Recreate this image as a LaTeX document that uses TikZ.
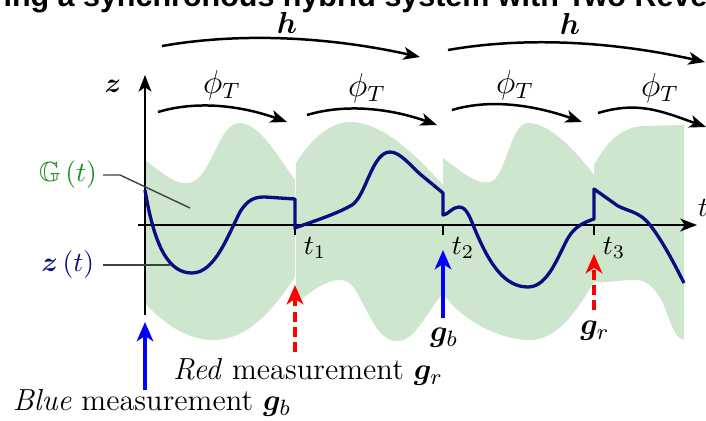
\documentclass[tikz,border=0pt]{standalone}
\usepackage{amssymb}
\usepackage{bm}
\usepackage{fontspec}
\newfontfamily\titlefont{Liberation Sans}
\usetikzlibrary{arrows.meta}

\definecolor{setgreen}{RGB}{205,230,205}
\definecolor{labelgreen}{RGB}{25,140,25}
\definecolor{trajblue}{RGB}{12,12,130}

\tikzset{
  tip/.style={-{Stealth[length=6pt,width=4.6pt,inset=1.6pt]}},
  period/.style={tip, line width=0.9pt},
  axis/.style={tip, line width=0.8pt},
  region/.style={fill=setgreen, draw=none},
  traj/.style={trajblue, line width=1.2pt, line join=round},
  leader/.style={black!75, line width=0.5pt},
  meastip/.style={-{Stealth[length=7pt,width=6pt,inset=2pt]}},
  bluemeas/.style={meastip, blue, line width=1.2pt},
  redmeas/.style={meastip, red, line width=1.2pt, dash pattern=on 3.5pt off 2pt},
  meastext/.style={font=\fontsize{11}{13}\selectfont}
}

\begin{document}
\begin{tikzpicture}[x=0.361pt,y=-0.361pt]
  \useasboundingbox (0,0) rectangle (706,421);
  \clip (0,0) rectangle (706,421);

  % TITLE (cut by the frame)
  \node[anchor=base west, inner sep=0pt,
        font=\fontsize{11}{13}\selectfont\titlefont\bfseries] (title) at (3,6)
        {ing a synchronous hybrid system with Two Reve};

  % GREEN SETS
  \fill[region] (145,160) .. controls (165,175) and (180,190) .. (196,180)
    .. controls (214,166) and (220,123) .. (240,123)
    .. controls (260,123) and (280,160) .. (295,180) -- (295,277)
    .. controls (270,315) and (245,340) .. (213,340)
    .. controls (185,340) and (160,320) .. (145,303) -- cycle;
  \fill[region] (296,163) .. controls (310,140) and (330,122) .. (350,122)
    .. controls (385,122) and (420,160) .. (443,185) -- (443,293)
    .. controls (425,315) and (415,341) .. (397,341)
    .. controls (380,341) and (372,320) .. (362,302)
    .. controls (355,288) and (350,280) .. (340,280)
    .. controls (325,280) and (310,293) .. (296,303) -- cycle;
  \fill[region] (443,158) .. controls (460,170) and (475,185) .. (490,182)
    .. controls (506,178) and (510,123) .. (528,123)
    .. controls (550,123) and (575,150) .. (594,175) -- (594,282)
    .. controls (580,305) and (560,340) .. (530,340)
    .. controls (500,340) and (460,320) .. (443,293) -- cycle;
  \fill[region] (594,165) .. controls (605,145) and (620,126) .. (645,126)
    -- (684,125) -- (684,340)
    .. controls (672,338) and (668,310) .. (660,298)
    .. controls (652,285) and (645,280) .. (635,280)
    .. controls (620,280) and (605,283) .. (594,282) -- cycle;

  % AXES
  \coordinate (zbot) at (145,315);
  \coordinate (ztop) at (145,75);
  \coordinate (tleft) at (138,225);
  \coordinate (tright) at (697,225);
  \draw[axis] (zbot) -- (ztop);
  \draw[axis] (tleft) -- (tright);
  \node (zlab) at (113,86) {$\bm{z}$};
  \node (tlab) at (703,208) {$t$};

  \foreach \x/\n in {295/1,443/2,594/3}{
    \draw[line width=1pt] (\x,225) -- (\x,235);
    \node (tick\n) at (\x+20,248) {$t_\n$};
  }

  % TRAJECTORY
  \draw[traj] (145,190) .. controls (155,250) and (170,273) .. (192,273)
    .. controls (215,273) and (228,235) .. (240,212)
    .. controls (248,199) and (255,197) .. (265,197)
    -- (295,199) -- (295,228)
    .. controls (305,224) and (335,215) .. (352,205)
    .. controls (366,196) and (372,152) .. (390,152)
    .. controls (400,152) and (410,165) .. (420,174)
    -- (443,193) -- (443,215)
    .. controls (448,215) and (452,207) .. (459,207)
    .. controls (467,207) and (470,218) .. (476,232)
    .. controls (490,265) and (505,287) .. (528,287)
    .. controls (548,287) and (558,256) .. (568,238)
    .. controls (575,226) and (585,222) .. (594,219)
    -- (594,189) -- (618,206)
    .. controls (630,212) and (640,212) .. (650,225)
    .. controls (662,240) and (675,265) .. (684,283);

  % LABELS
  \node[labelgreen, anchor=east, inner sep=2pt] (glab) at (103,175) {$\mathbb{G}\left(t\right)$};
  \coordinate (gknee) at (120,175);
  \coordinate (gend) at (190,208);
  \draw[leader] (glab.east) -- (gknee) -- (gend);
  \node[trajblue, anchor=east, inner sep=3pt] (ztlab) at (103,265) {$\bm{z}\left(t\right)$};
  \coordinate (zend) at (170,265);
  \draw[leader] (ztlab.east) -- (zend);

  % PERIOD ARROWS
  \foreach \sx/\sy/\ex/\ey/\lx/\ly/\n in {158/112/287/122/222/85/1, 307/115/437/125/367/88/2,
                                       452/110/582/122/515/85/3, 598/113/706/127/660/88/4}{
    \coordinate (ps\n) at (\sx,\sy);
    \coordinate (pe\n) at (\ex,\ey);
    \draw[period] (ps\n) .. controls +(40,-12) and +(-45,-16) .. (pe\n);
    \node[font=\large] (phi\n) at (\lx,\ly) {$\phi_T$};
  }
  \foreach \sx/\sy/\ex/\ey/\lx/\ly/\n in {162/46/420/57/287/23/1, 448/50/705/62/570/24/2}{
    \coordinate (hs\n) at (\sx,\sy);
    \coordinate (he\n) at (\ex,\ey);
    \draw[period] (hs\n) .. controls +(80,-14) and +(-90,-20) .. (he\n);
    \node[font=\fontsize{11}{13}\selectfont] (h\n) at (\lx,\ly) {$\bm{h}$};
  }

  % MEASUREMENTS
  \coordinate (b1s) at (145,390); \coordinate (b1e) at (145,322);
  \coordinate (b2s) at (443,318); \coordinate (b2e) at (443,250);
  \coordinate (r1s) at (295,352); \coordinate (r1e) at (295,285);
  \coordinate (r2s) at (594,310); \coordinate (r2e) at (594,254);
  \draw[bluemeas] (b1s) -- (b1e);
  \draw[bluemeas] (b2s) -- (b2e);
  \draw[redmeas] (r1s) -- (r1e);
  \draw[redmeas] (r2s) -- (r2e);

  \node[meastext] (bluetxt) at (152,403) {\textit{Blue} measurement $\bm{g}_b$};
  \node[meastext] (redtxt) at (308,372) {\textit{Red} measurement $\bm{g}_r$};
  \node[meastext] (gb) at (444,338) {$\bm{g}_b$};
  \node[meastext] (gr) at (595,331) {$\bm{g}_r$};
\end{tikzpicture}
\end{document}
